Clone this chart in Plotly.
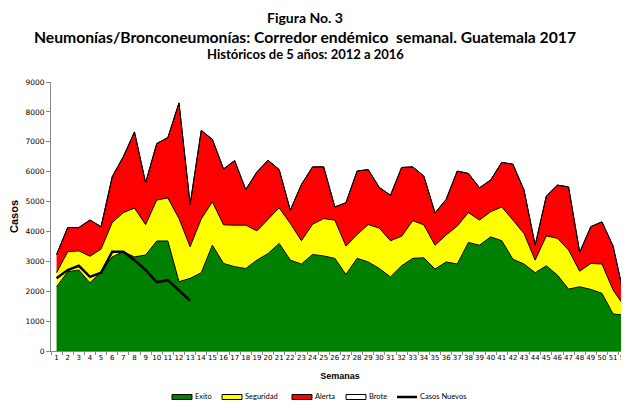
import plotly.graph_objects as go

semanas = list(range(1, 53))

# upper limit of each band (cumulative)
exito = [2150, 2650, 2710, 2280, 2650, 3150, 3320, 3150, 3210, 3680,
         3680, 2320, 2430, 2620, 3540, 2930, 2820, 2760, 3040, 3260,
         3600, 3040, 2910, 3230, 3180, 3100, 2560, 3100, 2980, 2760,
         2480, 2850, 3100, 3120, 2740, 2980, 2910, 3630, 3540, 3820,
         3690, 3070, 2910, 2620, 2850, 2540, 2070, 2150, 2060, 1930,
         1240, 1200]
seguridad = [2620, 3320, 3350, 3170, 3410, 4300, 4630, 4780, 4230, 5050,
             5120, 4430, 3490, 4420, 4990, 4220, 4210, 4210, 4020, 4410,
             4790, 4270, 3690, 4240, 4430, 4380, 3510, 3900, 4230, 4110,
             3690, 3840, 4360, 4220, 3540, 3880, 4180, 4630, 4380, 4660,
             4820, 4380, 3930, 3040, 3850, 3770, 3380, 2670, 2930, 2910,
             2040, 1500]
alerta = [3230, 4130, 4130, 4380, 4160, 5830, 6500, 7330, 5630, 6940,
          7140, 8300, 4910, 7380, 7080, 6090, 6370, 5400, 5990, 6380,
          6070, 4710, 5570, 6160, 6160, 4820, 4960, 6020, 6070, 5470,
          5210, 6140, 6160, 5850, 4620, 5070, 6020, 5940, 5460, 5720,
          6310, 6250, 5380, 3540, 5180, 5550, 5490, 3300, 4160, 4320,
          3510, 1820]
casos_semanas = list(range(1, 14))
casos_nuevos = [2430, 2710, 2850, 2480, 2620, 3320, 3320, 3040, 2710, 2300,
                2370, 2010, 1680]

series_names = ["Exito", "Seguridad", "Alerta", "Brote", "Casos Nuevos"]
series_colors = ["#008000", "#FFFF00", "#FF0000", "white", "black"]

fig = go.Figure()
fig.add_trace(go.Scatter(x=semanas, y=exito, name=series_names[0], mode="lines",
                         fill="tozeroy", fillcolor=series_colors[0],
                         line=dict(color="black", width=1)))
fig.add_trace(go.Scatter(x=semanas, y=seguridad, name=series_names[1], mode="lines",
                         fill="tonexty", fillcolor=series_colors[1],
                         line=dict(color="black", width=1)))
fig.add_trace(go.Scatter(x=semanas, y=alerta, name=series_names[2], mode="lines",
                         fill="tonexty", fillcolor=series_colors[2],
                         line=dict(color="black", width=1)))
fig.add_trace(go.Scatter(x=semanas, y=alerta, name=series_names[3], mode="lines",
                         fill="tonexty", fillcolor=series_colors[3],
                         line=dict(color="black", width=1)))
fig.add_trace(go.Scatter(x=casos_semanas, y=casos_nuevos, name=series_names[4],
                         mode="lines", line=dict(color="black", width=2.5)))

W, H = 621, 400          # the page adds an 8px body margin
ML, MR, MT, MB = 43, 0, 74, 57
plot_w = W - ML - MR
plot_h = H - MT - MB

def px_to_paper(px, py):
    return ((px - ML) / plot_w, (H - MB - py) / plot_h)

tfont = "Lato, 'Open Sans', sans-serif"
anns = []
for txt, py, sz, anchor in [("<b>Figura No. 3</b>", 0, 14, "top"),
                            ("<b>Neumonías/Bronconeumonías: Corredor endémico  semanal. Guatemala 2017</b>", 29, 15.7, "middle"),
                            ("<b>Históricos de 5 años: 2012 a 2016</b>", 46, 13, "middle")]:
    xp, yp = px_to_paper(297, py)
    anns.append(dict(text=txt, x=xp, y=yp, xref="paper", yref="paper",
                     xanchor="center", yanchor=anchor, showarrow=False,
                     borderpad=0,
                     font=dict(family=tfont, size=sz, color="black")))

# legend drawn as boxes + text (Excel style)
shapes = []
leg_x = [164, 214, 284, 338, 389]   # figure px, left edge of each key
leg_y = 389
for name, col, x0 in zip(series_names, series_colors, leg_x):
    if name == "Casos Nuevos":
        a = px_to_paper(x0, leg_y); b = px_to_paper(x0 + 20, leg_y)
        shapes.append(dict(type="line", xref="paper", yref="paper",
                           x0=a[0], y0=a[1], x1=b[0], y1=b[1],
                           line=dict(color="black", width=2.5)))
    else:
        a = px_to_paper(x0, leg_y + 2.5); b = px_to_paper(x0 + 20, leg_y - 2.5)
        shapes.append(dict(type="rect", xref="paper", yref="paper",
                           x0=a[0], y0=a[1], x1=b[0], y1=b[1],
                           fillcolor=col, line=dict(color="black", width=1)))
    t = px_to_paper(x0 + 21, leg_y)
    anns.append(dict(text=name, x=t[0], y=t[1], xref="paper", yref="paper",
                     xanchor="left", yanchor="middle", showarrow=False,
                     font=dict(family=tfont, size=7.5, color="black")))

fig.update_layout(
    width=W, height=H,
    margin=dict(l=ML, r=MR, t=MT, b=MB, autoexpand=False),
    paper_bgcolor="white", plot_bgcolor="white",
    showlegend=False,
    annotations=anns,
    shapes=shapes,
)

tickfont = dict(family="DejaVu Sans, Verdana, sans-serif", size=7, color="black")
fig.update_xaxes(range=[0.5, 52.43], tickmode="array", tickvals=semanas,
                 ticktext=[str(s) for s in semanas], ticks="", showgrid=False,
                 showline=True, linecolor="#888888", linewidth=1,
                 tickfont=tickfont, tickangle=0,
                 minor=dict(tickmode="linear", tick0=0.5, dtick=1, ticks="outside",
                            ticklen=3, tickcolor="#888888", showgrid=False),
                 title=dict(text="<b>Semanas</b>", standoff=11,
                            font=dict(family="Liberation Sans, Arial", size=9, color="black")),
                 zeroline=False)
fig.update_yaxes(range=[0, 9000], dtick=1000, showgrid=False, zeroline=False,
                 showline=True, linecolor="#888888", linewidth=1,
                 ticks="outside", ticklen=4, tickcolor="#888888",
                 tickfont=dict(family="DejaVu Sans, Verdana, sans-serif", size=7.5, color="black"),
                 title=dict(text="<b>Casos</b>", standoff=10,
                            font=dict(family="Liberation Sans, Arial", size=11, color="black")))

fig.write_html("out.html")
